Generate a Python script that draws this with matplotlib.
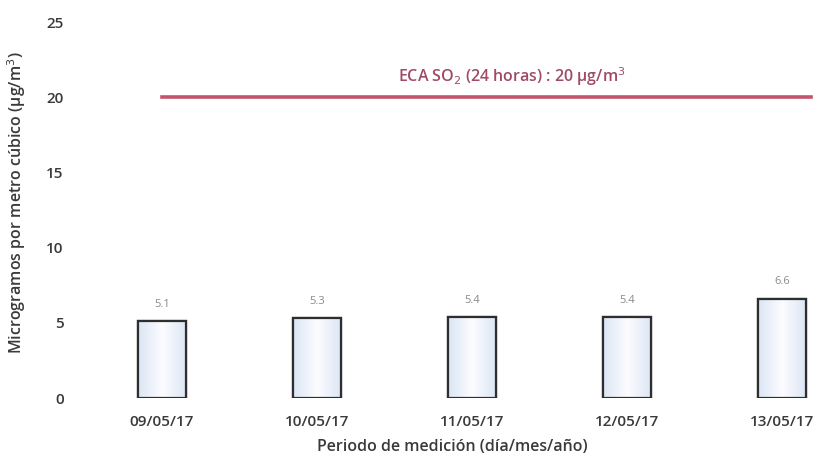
import matplotlib
matplotlib.use("Agg")
import matplotlib.pyplot as plt
import numpy as np

fechas = ["09/05/17", "10/05/17", "11/05/17", "12/05/17", "13/05/17"]
valores = [5.1, 5.3, 5.4, 5.4, 6.6]
eca = 20
yticks = [0, 5, 10, 15, 20, 25]

plt.rcParams['font.family'] = ['Open Sans', 'DejaVu Sans']

fig = plt.figure(figsize=(8.16, 4.59), dpi=100)
ax = fig.add_axes([84.5/816, 1-398/459, 1-84.5/816, (398-22)/459])

x = np.arange(len(fechas))
bars = ax.bar(x, valores, width=0.31, color='#e4ecf7', edgecolor='#2e2e2e', linewidth=1.6, zorder=2)

# soft gradient inside the bars
grad = np.linspace(0, 1, 64)
g = 1 - np.abs(grad - 0.5) * 2
img = np.ones((2, 64, 3))
for i in range(64):
    c0 = np.array([0.86, 0.90, 0.96])
    c1 = np.array([0.99, 0.99, 1.0])
    img[:, i, :] = c0 + (c1 - c0) * g[i]
for b in bars:
    x0, y0 = b.get_x(), b.get_y()
    w, h = b.get_width(), b.get_height()
    im = ax.imshow(img, extent=[x0, x0 + w, y0, y0 + h], aspect='auto', zorder=2.1)
    im.set_clip_path(b)
    ax.add_patch(plt.Rectangle((x0, y0), w, h, fill=False, edgecolor='#2e2e2e', linewidth=1.6, zorder=2.2))

for xi, v in zip(x, valores):
    ax.text(xi, v + 0.75, f"{v:.1f}", ha='center', va='bottom', fontsize=8, color='#8a8a8a')

ax.plot([0, 4.19], [eca, eca], color='#c4546e', linewidth=2.6, zorder=3)
ax.text(2.26, eca + 0.6, "ECA SO$_2$ (24 horas) : 20 µg/m$^3$", ha='center', va='bottom',
        fontsize=11.5, color='#a04a6a', fontweight='semibold')

ax.set_xlim(-0.5, (816 - 162) / 155)
ax.set_ylim(0, 25)
ax.set_yticks(yticks)
ax.set_xticks(x)
ax.set_xticklabels(fechas, fontsize=11, fontweight='semibold', color='#3a3a3a')
ax.set_yticklabels([str(t) for t in yticks], fontsize=11, fontweight='semibold', color='#3a3a3a')
ax.tick_params(length=0, pad=15, axis='y')
ax.tick_params(length=0, pad=12, axis='x')
for s in ax.spines.values():
    s.set_visible(False)

ax.set_xlabel("Periodo de medición (día/mes/año)", fontsize=11.5, fontweight='semibold', color='#3a3a3a')
ax.xaxis.set_label_coords((452 - 84.5) / (816 - 84.5), -(447 - 398) / (398 - 22))
ax.xaxis.label.set_va('center')
ax.set_ylabel("Microgramos por metro cúbico (µg/m$^3$)", fontsize=11.5, fontweight='semibold', color='#3a3a3a')
ax.yaxis.set_label_coords(-(84.5 - 17) / (816 - 84.5), (398 - 203) / (398 - 22))
ax.yaxis.label.set_va('center')

fig.savefig("out.png", dpi=100)
